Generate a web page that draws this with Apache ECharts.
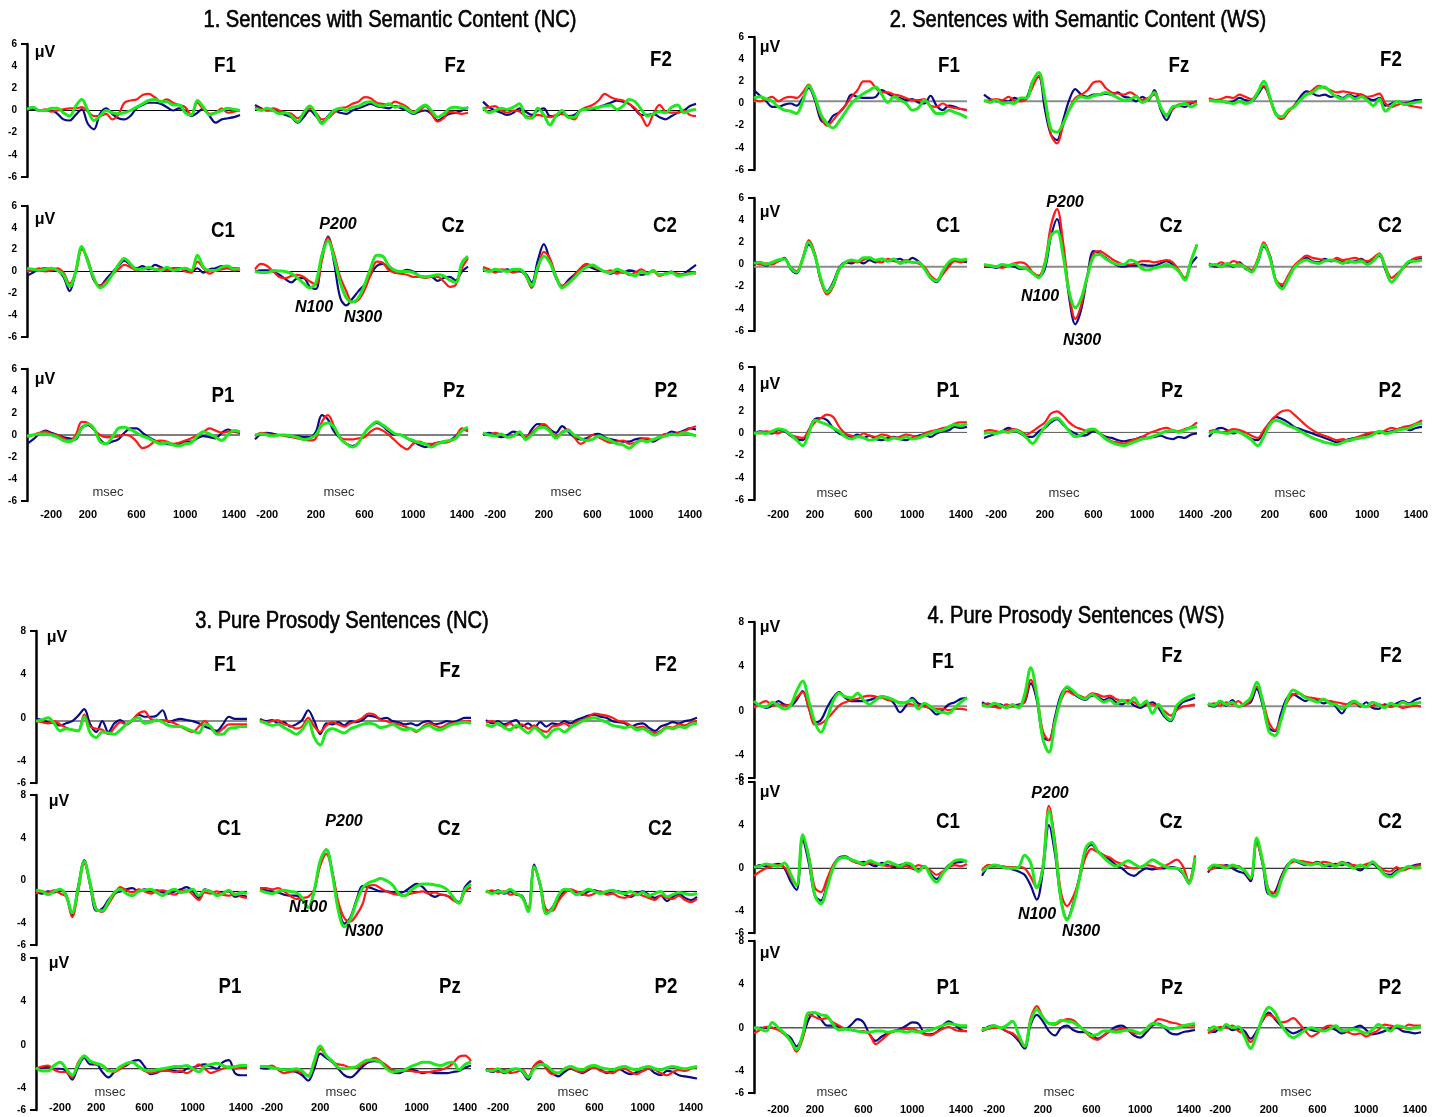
<!DOCTYPE html>
<html><head><meta charset="utf-8">
<script src="https://cdn.jsdelivr.net/npm/echarts@6/dist/echarts.min.js"></script>
<style>html,body{margin:0;padding:0;background:#fff}#c{width:1437px;height:1117px}</style>
</head><body><div id="c"></div>
<script>
// ---------- shared axes ----------
var TIME_MS = [-300,-250,-200,-150,-100,-50,0,50,100,150,200,250,300,350,400,450,500,550,600,650,700,750,800,850,900,950,1000,1050,1100,1150,1200,1250,1300,1350,1400,1450];
var X_TICKS = [-200,200,600,1000,1400];
var Y_TICKS_SEMANTIC = [6,4,2,0,-2,-4,-6];
var Y_TICKS_PROSODY = [8,4,0,-4,-6];
var ELECTRODES = [['F1','Fz','F2'],['C1','Cz','C2'],['P1','Pz','P2']];
var PANEL_TITLES = ['1. Sentences with Semantic Content (NC)','2. Sentences with Semantic Content (WS)','3. Pure Prosody Sentences (NC)','4. Pure Prosody Sentences (WS)'];
var PEAK_NAMES = ['P200','N100','N300'];
// baseline (reference line) level per row, in μV
var BASE_P1 = [0,0,0];
var BASE_P2 = [0.2,-0.2,0.1];
var BASE_P3 = [-0.3,-1.0,-2.2];
var BASE_P4 = [0.45,0,0];

// ---------- Panel 1 : Semantic NC ----------
var P1_F1_B = [0.3,0.1,0,0,0,-0.3,-0.8,-0.9,-0.4,0.1,-1.2,-1.7,-0.3,0.2,-0.3,-0.7,-0.8,-0.5,0.2,0.5,0.7,0.7,0.6,0.3,0,0.2,0,-0.5,-0.2,0.2,-0.5,-1.1,-0.8,-0.7,-0.6,-0.4];
var P1_F1_R = [0.1,0.3,0,0.1,-0.1,0,0.1,0.2,0.2,0.3,-0.1,-0.5,-0.5,-0.3,-0.8,-0.4,0.7,0.9,1.0,1.4,1.5,1.2,0.8,1.0,0.7,0.5,0.3,-0.4,0.7,0.1,-0.3,-0.2,0.2,-0.2,-0.1,0];
var P1_F1_G = [0.1,0.3,0,0,0.2,0.2,-0.2,-0.5,0.4,1.0,0,-0.9,-0.5,0,-0.2,-0.3,-0.2,0,0.3,0.6,0.9,1.0,0.8,0.8,0.5,0.5,-0.2,-0.4,0.9,0.3,-0.4,-0.2,0,0.2,0.1,0];
var P1_Fz_B = [0.5,0.2,0,0,-0.2,-0.4,-0.6,-1.1,-0.6,0,-0.5,-1.1,-0.5,0,-0.2,-0.3,0,0.2,0.4,0.6,0.4,0.3,0.2,0.4,0.2,0,-0.3,-0.1,0,-0.3,-0.9,-0.6,-0.3,-0.2,0,0.3];
var P1_Fz_R = [0.3,0.1,0,0.2,0,-0.2,-0.3,-0.7,-0.3,0.2,-0.2,-0.8,-0.7,-0.2,0.2,0.3,0.6,0.8,1.2,1.1,0.7,0.6,0.5,0.8,0.6,0.3,-0.1,0,0.4,-0.3,-1.0,-0.7,-0.1,-0.2,-0.3,-0.2];
var P1_Fz_G = [0.2,0,0.2,0,-0.3,-0.2,-0.5,-1.0,-0.2,0.4,-0.3,-1.2,-0.6,0,0.2,0,0.3,0.4,0.7,0.8,0.5,0.4,0.6,0.3,0.4,0.1,-0.2,0.2,0.5,0,-0.6,-0.3,0.2,0.3,0.2,0.2];
var P1_F2_B = [0.8,0.3,0,-0.2,-0.4,-0.2,0.2,-0.1,-0.4,0,0.2,-0.5,-0.5,-0.2,-0.5,-0.4,0,0.1,0.1,0.3,0.5,0.7,0.9,0.8,0.6,0.1,-0.4,-0.4,-0.3,-0.6,-0.8,-0.5,-0.2,0,0.4,0.6];
var P1_F2_R = [0.2,0.3,0.4,0,-0.2,0,-0.1,-0.5,-0.6,-0.4,-0.5,-0.6,-0.4,-0.3,-0.6,-0.8,0,0.3,0.5,0.9,1.5,1.2,1.0,0.9,0.6,0.2,-0.5,-1.4,-0.3,0.5,-0.1,-0.2,-0.2,0,-0.4,-0.5];
var P1_F2_G = [0.3,-0.2,0,0.2,0.1,0.3,0.6,-0.6,-0.7,0.2,-0.4,-1.3,-0.5,0,-0.6,-0.6,0,0.1,0.2,0.3,0.4,0.5,0.1,0.4,1.0,0.8,0.1,-0.5,-0.3,-0.1,-0.2,0.3,0.5,-0.2,0,0.1];
var P1_C1_B = [-0.4,-0.1,0.2,0.3,0.2,0.1,-0.5,-1.8,0,2.2,0.9,-0.8,-1.3,-0.7,-0.1,0.5,1.0,0.6,0.3,0.5,0.2,0.6,0.4,0.2,0.3,0.3,0.1,0,0.3,-0.1,0.2,0.3,0.5,0.3,0.3,0.3];
var P1_C1_R = [0,0.1,0.3,0,0.1,0.3,-0.1,-1.1,-0.1,2.0,1.1,-0.7,-1.3,-0.9,-0.3,0.2,0.6,0.4,0.1,0.3,0.3,0.2,0.3,0.1,0.2,0.3,0,-0.1,0.9,0.3,-0.2,0.1,0.2,0.3,0.1,0.2];
var P1_C1_G = [0.3,0.2,0.1,0.2,0.3,0.1,-0.3,-1.4,0,2.3,0.9,-0.6,-1.5,-1.1,-0.3,0.6,1.2,0.7,0.2,0.2,0.4,0.2,0.1,0.4,0.1,0.2,0.3,0.1,1.5,0.4,0.1,0.1,0.4,0.5,0.2,0.3];
var P1_Cz_B = [0,0.1,0.1,0,-0.3,-0.7,-1.0,-0.6,-0.6,-1.4,-1.6,1.5,3.2,0.8,-2.4,-3.1,-2.5,-1.8,-1.2,-0.3,0.5,0.7,0.3,-0.1,0,0.15,0,-0.4,-0.5,-0.5,-0.85,-0.6,-0.5,-0.8,0,0.45];
var P1_Cz_R = [0.2,0.7,0.5,0,-0.5,-0.6,-0.4,-0.3,-0.5,-0.9,-1.2,1.0,3.1,1.6,-0.5,-1.8,-2.8,-2.6,-1.7,-0.3,0.9,0.8,0.1,-0.1,-0.2,-0.3,-0.5,-0.5,-0.6,-0.5,-0.5,-0.9,-1.4,-1.2,0.3,1.2];
var P1_Cz_G = [0,-0.1,-0.1,0.1,0.05,0,-0.2,-0.6,-1.1,-1.5,-1.0,1.5,2.8,1.2,-1.0,-2.4,-2.8,-2.4,-1.2,0.3,1.5,1.4,0.5,0.1,0,0,-0.1,-0.4,-0.5,-0.4,-0.3,-0.4,-0.8,-1.0,0.8,1.4];
var P1_C2_B = [0.3,0.1,0,0,0.2,0,0,-0.2,-1.0,1.0,2.5,1.0,-0.6,-1.4,-0.8,-0.3,0.2,0.5,0.3,0.1,0,-0.2,0,-0.1,0.1,0,-0.3,-0.2,0.1,-0.3,-0.2,0,-0.3,-0.2,0.2,0.6];
var P1_C2_R = [0.4,0.2,-0.1,0.2,0.1,-0.1,0.1,-0.4,-1.5,0.2,1.8,1.2,-0.4,-1.3,-1.0,-0.4,0.3,0.7,0.5,0.2,0,0.1,-0.2,0,-0.3,-0.1,0.2,-0.1,0,-0.4,-0.2,-0.1,-0.2,-0.3,-0.1,-0.2];
var P1_C2_G = [0.2,0,0.2,0.1,0,0.2,0.2,-0.3,-1.3,0.4,1.4,0.8,-0.5,-1.5,-1.1,-0.6,0,0.4,0.6,0.3,0,-0.1,0.2,0,-0.2,-0.4,0,-0.2,0.1,-0.3,-0.2,-0.1,-0.4,-0.3,-0.2,-0.1];
var P1_P1_B = [-0.8,-0.4,0.1,0.4,0.2,0,-0.2,-0.3,-0.4,0.7,0.9,0.5,-0.4,-0.8,-0.6,-0.4,0.2,0.6,0.6,0.2,-0.2,-0.5,-0.7,-0.8,-0.9,-0.8,-0.6,-0.6,-0.3,-0.1,-0.2,-0.3,0.2,0.5,0.3,0.2];
var P1_P1_R = [-0.2,0,0.2,0.3,0.1,0,-0.3,-0.5,0,1.2,1.1,0.5,0,-0.2,-0.2,-0.1,0,-0.1,-0.6,-1.2,-1.0,-0.6,-0.5,-0.6,-0.8,-0.7,-0.5,-0.3,0,0.3,0.6,0.4,0.2,0.3,0.3,0.3];
var P1_P1_G = [-0.1,0,0.1,0.1,0,-0.2,-0.5,-0.6,-0.3,0.6,1.0,0.6,-0.6,-0.8,-0.2,0.6,0.7,0.5,0.2,-0.1,-0.3,-0.6,-0.8,-0.7,-0.9,-1.0,-0.8,-0.7,-0.1,0.3,0.1,-0.2,-0.5,0,0.4,0.3];
var P1_Pz_B = [-0.4,0.1,0.2,0.1,0,0,-0.1,-0.1,-0.2,-0.2,0.3,1.8,1.4,0.3,-0.3,-0.8,-1.0,-0.7,0.2,0.8,1.1,0.8,0.3,0,0,-0.3,-0.6,-0.9,-1.1,-0.9,-0.7,-0.6,-0.5,-0.1,0.5,0.4];
var P1_Pz_R = [-0.1,0.2,0.1,0,0,-0.1,-0.2,-0.3,-0.4,-0.5,-0.3,1.2,1.8,0.8,-0.2,-0.4,-0.4,-0.3,-0.2,0.3,0.6,0.4,0,-0.5,-1.0,-1.3,-0.8,-0.6,-0.8,-0.8,-0.7,-0.7,-0.6,-0.2,0.6,0.3];
var P1_Pz_G = [0,0.1,0,-0.1,0,0,-0.1,-0.2,-0.4,-0.3,0,0.9,1.1,0.7,-0.3,-0.8,-1.1,-0.7,0.2,0.8,1.2,0.9,0.5,0.1,0,-0.3,-0.5,-0.7,-0.8,-1.1,-0.8,-0.6,-0.5,-0.3,0.4,0.7];
var P1_P2_B = [0,0.2,0,-0.2,0,0.3,0.1,-0.3,0.5,1.0,0.9,0.5,0.2,0.8,0.3,-0.2,-0.4,-0.3,0,0.1,-0.2,-0.4,-0.5,-0.6,-0.6,-0.4,-0.3,-0.4,-0.6,-0.3,0,0.3,0.2,0.4,0.6,0.5];
var P1_P2_R = [0.1,0,0.2,0,-0.2,0,0.2,-0.2,0.2,0.7,1.0,0.5,-0.2,0.3,0.5,-0.2,-0.8,-0.5,0,-0.2,-0.5,-0.7,-0.6,-0.5,-0.8,-0.7,-0.4,-0.3,-0.5,-0.2,0.1,0,0.2,0.3,0.6,0.8];
var P1_P2_G = [0.2,0,-0.1,0.1,-0.2,-0.1,0.3,-0.4,0,0.6,0.7,0.3,-0.3,0.2,0.4,0,-0.3,-0.5,-0.4,-0.1,-0.3,-0.5,-0.8,-0.9,-1.2,-0.8,-0.5,-0.6,-0.4,-0.2,-0.1,0.1,0,0.2,0.1,-0.1];

// ---------- Panel 2 : Semantic WS ----------
var P2_F1_B = [1.2,0.7,0.2,-0.3,-0.3,-0.1,0,-0.2,0.5,1.4,0.3,-1.5,-1.8,-1.1,-0.8,-0.2,0.8,0.6,0.5,0.5,0.6,1.2,0.9,0.6,0.5,0.3,0.4,0.1,0,0.7,-0.2,-0.6,-0.2,-0.3,-0.5,-0.6];
var P2_F1_R = [0.3,0.2,0.4,0.6,0.2,0.5,0.6,0.5,1.0,1.7,0.5,-1.2,-2.0,-1.5,-0.8,-0.2,0.6,1.2,2.0,2.0,1.4,1.0,1.0,0.8,0.7,0.5,0.3,0.3,0.4,-0.2,-0.3,0,-0.3,-0.4,-0.5,-0.6];
var P2_F1_G = [0.5,0.6,0.4,0.2,-0.3,-0.6,-0.7,-0.9,0.2,1.6,0.6,-1.0,-1.8,-2.2,-1.6,-0.8,0,0.5,0.9,1.2,1.5,0.8,0.1,0.6,0.3,0,-0.6,-0.4,0.3,-0.3,-0.9,-0.9,-0.6,-0.8,-1.0,-1.3];
var P2_Fz_B = [0.8,0.4,0.2,0.3,0.2,0.5,0.3,0.5,2.0,2.4,-0.5,-2.8,-3.3,-1.5,0.3,1.3,0.8,0.6,0.8,0.8,0.9,0.8,1.0,0.6,0.5,0.2,0.6,0.3,1.2,-0.5,-1.5,-0.5,-0.2,-0.3,0,0.2];
var P2_Fz_R = [0.2,0.3,0.4,0.3,0.6,0.3,0.2,0.4,1.5,2.5,0.3,-2.8,-3.6,-2.0,-0.5,0.5,0.8,1.2,1.9,2.0,1.4,1.0,0.9,0.8,1.0,0.7,0.3,0.5,0.8,-0.3,-1.0,-0.5,-0.1,0,0.1,0.1];
var P2_Fz_G = [0.3,0.1,0.3,0,0.1,0,0.5,0.5,2.0,2.8,0.5,-2.3,-2.6,-1.8,-0.6,0.3,0.6,0.5,0.7,0.8,1.0,0.8,0.5,0.3,0.4,0.6,0.1,0.4,1.0,-0.3,-1.1,-0.3,-0.2,0,-0.3,0];
var P2_F2_B = [0.4,0.3,0.2,0.1,0.2,0.5,0.3,0.2,0.8,1.5,0.5,-0.9,-1.2,-0.7,-0.2,0.6,1.1,0.9,0.7,0.8,0.6,0.7,0.5,0.8,0.6,0.8,0.5,0.3,0.5,-0.2,0,0.2,0,0.1,0.3,0.3];
var P2_F2_R = [0.5,0.3,0.4,0.6,0.5,0.8,0.6,0.4,1.0,1.6,0.4,-1.0,-1.4,-0.8,-0.2,0.3,0.8,1.2,1.6,1.4,1.2,1.0,1.1,1.0,0.9,0.8,0.6,0.7,0.9,0,-0.3,-0.1,0,-0.2,-0.3,-0.4];
var P2_F2_G = [0.3,0.2,0.2,0.1,0,0.2,0,0.2,1.0,2.0,0.6,-1.0,-1.2,-0.6,-0.3,0.3,0.8,1.0,1.4,1.5,1.0,0.6,0.4,0.7,0.4,0.6,0.3,-0.2,0.4,-0.7,-0.2,0.2,-0.1,0,0.1,0.2];
var P2_C1_B = [0.3,0.1,-0.1,0.2,0.3,0.6,-0.4,-0.8,0.5,1.8,0.8,-1.5,-2.4,-1.6,-0.3,0.2,0.1,0.3,0.1,0.4,0.2,0.5,0.3,0.4,0.5,0.2,0.6,0.3,-0.3,-1.2,-1.6,-0.8,0,0.4,0.3,0.2];
var P2_C1_R = [0.2,0,0.1,0,0.3,0.5,-0.2,-0.6,0.6,2.2,1.0,-1.5,-2.7,-2.0,-0.5,0.2,0.3,0.2,0.4,0.6,0.3,0.2,0.5,0.3,0.2,0.4,0.2,0.1,-0.2,-1.0,-1.4,-0.9,-0.2,0.3,0.2,0.4];
var P2_C1_G = [0.1,0.2,0,0.2,0.4,0.5,-0.3,-0.7,0.5,2.0,0.8,-1.3,-2.5,-1.8,-0.4,0.2,0.4,0.3,0.6,0.6,0.4,0.5,0.3,0.5,0.1,0.3,0.2,0.2,-0.4,-1.2,-1.5,-0.6,0.2,0.5,0.4,0.5];
var P2_Cz_B = [-0.2,-0.2,-0.3,-0.1,-0.1,-0.2,-0.4,-0.4,-0.8,-1.1,-0.4,2.5,4.1,1.5,-3.0,-5.4,-4.0,-1.0,1.2,1.0,0.6,0.2,-0.1,-0.2,-0.1,-0.1,0,-0.1,-0.1,0.1,0.3,0,-0.6,-1.3,0,0.7];
var P2_Cz_R = [-0.1,-0.1,-0.2,-0.3,-0.1,0.1,0.2,0,-0.7,-1.0,0.2,3.5,5.0,2.0,-2.5,-4.9,-3.6,-1.0,1.0,1.2,0.9,0.5,0.2,0,0,0.1,0.3,0.3,0.2,0.3,0.4,0.2,-0.5,-1.2,0.3,1.8];
var P2_Cz_G = [0,-0.1,-0.2,0,-0.1,0,-0.3,-0.4,-0.8,-1.2,0,2.6,3.0,0.8,-2.5,-3.9,-3.0,-1.0,0.7,0.9,0.5,0.2,0,0,0.4,0.2,-0.4,-0.5,-0.3,-0.2,0,-0.2,-0.6,-1.4,0.3,1.8];
var P2_C2_B = [0,-0.2,-0.1,0,-0.2,0.2,-0.4,-0.6,0.2,1.6,0.8,-1.5,-2.0,-1.2,-0.2,0.3,0.6,0.3,0.2,0.5,0.3,0.4,0.2,0.2,0.3,0.5,0.2,0.4,0.8,-0.5,-1.6,-1.0,-0.2,0.2,0.4,0.5];
var P2_C2_R = [0.1,-0.1,0.2,0,0.3,0.1,-0.2,-0.5,0.5,2.0,0.8,-1.4,-1.8,-1.0,-0.1,0.4,0.8,0.6,0.5,0.4,0.3,0.6,0.4,0.5,0.6,0.4,0.3,0.6,1.0,-0.2,-1.2,-0.8,-0.3,0.3,0.6,0.7];
var P2_C2_G = [-0.1,0,-0.2,0.1,-0.1,0,-0.3,-0.7,0.3,1.8,0.6,-1.5,-2.2,-1.3,-0.3,0.2,0.4,0.2,0.1,0.3,0.4,0.3,0.1,0.3,0.2,0.3,0,0.3,0.9,-0.3,-1.6,-1.0,-0.2,0.3,0.3,0.4];
var P2_P1_B = [0,0.2,0.1,0,0.3,0.2,-0.2,-0.5,-0.6,0.3,1.3,1.4,1.2,0.5,0,-0.2,-0.3,-0.1,-0.4,-0.2,-0.5,-0.6,-0.4,-0.3,-0.5,-0.6,-0.4,-0.2,-0.1,-0.3,0,0.2,0.3,0.6,0.5,0.6];
var P2_P1_R = [0.1,0,0.2,0.1,0,0.3,-0.1,-0.3,-0.4,0.3,1.0,1.4,1.7,1.5,0.6,0,-0.2,-0.3,0,-0.2,-0.3,-0.1,-0.2,-0.4,-0.3,-0.1,-0.2,-0.3,0,0.2,0.3,0.5,0.6,0.9,1.0,1.0];
var P2_P1_G = [0,0.1,0,0.2,0.4,0.3,-0.1,-0.6,-1.1,0,1.2,1.0,0.8,0.5,0.2,-0.3,-0.5,-0.3,-0.4,-0.6,-0.5,-0.3,-0.6,-0.4,-0.5,-0.3,-0.5,-0.4,-0.2,0,0.2,0.3,0.6,0.8,0.7,0.9];
var P2_Pz_B = [-0.4,-0.2,0,0.2,0.5,0.3,0,-0.3,-0.3,0.2,0.5,1.0,1.3,0.8,0.3,0,-0.2,-0.1,0.2,0,-0.3,-0.4,-0.6,-0.7,-0.6,-0.5,-0.3,-0.4,-0.3,-0.2,-0.4,-0.5,-0.3,-0.4,-0.1,0];
var P2_Pz_R = [0.2,0.3,0.2,0.1,0.3,0.4,0.2,-0.1,0.2,0.6,1.0,1.8,2.0,1.6,1.0,0.6,0.4,0.2,0.3,0,-0.4,-0.7,-0.8,-0.9,-0.7,-0.5,-0.3,0,0.2,0.4,0.5,0.3,0.2,0.4,0.6,1.0];
var P2_Pz_G = [0,0.1,0,0.2,0.1,0.3,0.1,-0.4,-0.9,-0.2,0.6,1.2,1.4,0.9,0.2,-0.3,-0.1,0.3,0.4,0,-0.5,-0.8,-1.0,-1.1,-0.9,-0.7,-0.5,-0.4,-0.2,0,0.2,0.3,0.1,0.3,0.5,0.6];
var P2_P2_B = [-0.3,0.3,0.5,0.3,0,0.2,-0.2,-0.5,-0.6,0.2,1.0,1.5,1.3,1.0,0.6,0.4,0.2,0,-0.2,-0.4,-0.6,-0.8,-0.7,-0.5,-0.4,-0.3,-0.1,0,0.2,0.1,0.2,0.4,0.5,0.3,0.5,0.6];
var P2_P2_R = [0.2,0.3,0.1,0.2,0.4,0.3,0.1,-0.2,-0.4,0.3,1.0,1.6,2.0,2.1,1.7,1.2,0.7,0.3,0,-0.2,-0.4,-0.6,-0.5,-0.7,-0.4,-0.2,0,0.1,0,0.3,0.5,0.4,0.6,0.7,0.9,1.2];
var P2_P2_G = [0,0.2,0.1,0,0.2,0.1,-0.2,-0.6,-1.1,-0.3,0.8,1.2,1.0,0.7,0.5,0.2,-0.1,-0.4,-0.6,-0.8,-0.9,-1.0,-0.8,-0.6,-0.5,-0.4,-0.3,-0.1,0.2,0,0.1,0.3,0.4,0.5,0.8,0.9];

// ---------- Panel 3 : Prosody NC ----------
var P3_F1_B = [-0.1,-0.2,-0.4,-0.5,-0.7,-0.5,-0.3,0.2,0.8,-0.6,-1.3,-0.3,-1.3,-0.5,-0.2,-0.6,-0.2,0.3,0.1,0.1,0.2,0.7,-0.4,-0.2,-0.1,-0.2,-0.3,-0.5,-0.8,-1.0,-1.2,-0.6,0.1,-0.1,-0.1,-0.1];
var P3_F1_R = [-0.3,-0.4,-0.5,-0.3,-0.6,-0.9,-1.1,-1.2,0.3,-0.8,-1.0,-1.1,-1.5,-0.9,-0.4,-0.6,-0.2,0.4,0.6,-0.1,-0.2,-0.2,-0.3,-0.5,-0.8,-1.1,-1.3,-0.8,-0.3,-0.9,-1.4,-1.0,-0.6,-0.6,-0.6,-0.6];
var P3_F1_G = [-0.3,-0.2,0,-0.5,-1.2,-1.0,-1.1,-1.2,0.1,-1.4,-1.8,-1.3,-1.4,-1.5,-1.1,-0.6,-0.2,0,-0.5,-0.4,-0.2,-0.4,-0.7,-0.8,-0.8,-1.0,-1.2,-1.4,-0.6,-0.8,-1.5,-1.5,-1.0,-0.9,-0.8,-0.8];
var P3_Fz_B = [-0.1,-0.3,-0.2,-0.5,-0.4,-0.8,-0.6,-0.2,0.7,-0.3,-1.5,-0.5,-0.6,-0.4,-0.7,-0.3,-0.4,-0.2,0.2,0.1,-0.1,0,-0.3,-0.4,-0.6,-0.5,-0.7,-0.4,-0.3,-0.6,-0.5,-0.3,-0.4,-0.2,0,0];
var P3_Fz_R = [-0.2,-0.4,-0.3,-0.2,-0.6,-0.7,-1.0,-0.8,0,-0.8,-1.3,-0.7,-0.4,-0.6,-0.8,-0.5,-0.3,0,0.4,0.3,-0.2,-0.3,-0.5,-0.6,-0.8,-1.0,-1.3,-0.8,-0.5,-0.7,-0.9,-0.6,-0.5,-0.4,-0.3,-0.3];
var P3_Fz_G = [-0.3,-0.5,-0.7,-0.6,-0.9,-1.2,-1.5,-1.1,-0.3,-1.8,-2.5,-1.3,-1.0,-1.2,-1.4,-1.0,-0.8,-0.6,-0.5,-0.6,-0.9,-0.8,-0.6,-0.9,-1.1,-1.0,-1.2,-0.9,-0.7,-1.0,-1.1,-0.8,-0.6,-0.5,-0.4,-0.5];
var P3_F2_B = [-0.2,-0.5,-0.3,-0.6,-0.4,-0.2,-0.8,-0.5,-0.9,-0.4,-0.8,-0.5,-0.6,-0.3,-0.5,-0.2,0,0.2,0.3,0.1,0,-0.3,-0.4,-0.5,-0.8,-0.6,-0.5,-0.9,-1.2,-0.8,-0.6,-0.4,-0.5,-0.3,-0.2,0];
var P3_F2_R = [-0.4,-0.3,-0.6,-0.8,-0.5,-0.9,-0.6,-1.0,-0.7,-1.1,-1.3,-0.8,-0.7,-0.5,-0.8,-0.4,-0.2,0.1,0.4,0.3,0.2,0,-0.3,-0.4,-0.7,-0.9,-0.8,-1.2,-1.4,-1.2,-0.8,-0.9,-0.6,-0.7,-0.4,-0.3];
var P3_F2_G = [-0.6,-0.8,-0.5,-0.9,-1.1,-0.7,-1.0,-1.4,-0.9,-1.3,-1.8,-1.2,-1.0,-1.3,-0.9,-0.6,-0.3,-0.1,0,-0.2,-0.4,-0.7,-0.8,-0.9,-0.8,-1.1,-1.0,-1.3,-1.6,-1.3,-0.9,-1.0,-0.8,-0.9,-0.6,-0.5];
var P3_C1_B = [-1.0,-1.2,-1.0,-1.1,-0.9,-1.3,-3.2,-0.5,1.9,-0.5,-2.8,-2.6,-1.8,-1.2,-1.0,-0.8,-0.7,-1.0,-0.8,-1.0,-0.9,-1.1,-1.2,-1.0,-0.8,-0.6,-1.0,-1.6,-0.8,-1.0,-1.3,-1.1,-1.0,-1.5,-1.4,-1.5];
var P3_C1_R = [-1.2,-1.0,-1.1,-0.9,-1.2,-1.5,-3.4,-1.0,1.6,-0.2,-2.6,-2.9,-2.2,-1.3,-0.6,-0.9,-1.1,-0.8,-1.0,-1.2,-1.0,-0.9,-1.1,-1.3,-1.0,-0.9,-1.3,-1.8,-1.1,-1.2,-1.0,-1.3,-1.4,-1.2,-1.5,-1.6];
var P3_C1_G = [-0.9,-1.0,-1.3,-1.0,-0.8,-1.4,-3.0,-0.7,1.8,-0.3,-2.7,-2.8,-2.0,-1.1,-0.8,-1.2,-1.4,-1.0,-0.9,-0.8,-1.1,-1.4,-1.0,-0.8,-1.1,-1.0,-0.8,-1.4,-0.9,-1.0,-1.4,-1.2,-0.9,-1.3,-1.1,-1.2];
var P3_Cz_B = [-0.8,-0.9,-1.0,-1.1,-1.3,-1.4,-1.4,-1.8,-2.5,-1.0,1.8,2.9,0.8,-2.4,-4.0,-3.4,-1.8,-0.5,-0.6,-0.8,-1.0,-1.0,-1.1,-1.2,-1.0,-0.6,-0.3,-0.6,-1.2,-1.5,-1.3,-1.4,-1.7,-2.0,-0.6,0];
var P3_Cz_R = [-0.7,-0.7,-0.8,-0.7,-1.0,-1.4,-1.7,-1.6,-1.5,-0.8,1.4,2.5,0.8,-2.0,-3.5,-3.8,-3.2,-2.2,-0.5,-0.4,-0.7,-1.0,-1.2,-1.3,-1.4,-1.2,-1.1,-1.0,-1.2,-1.1,-1.3,-1.4,-1.8,-2.1,-1.0,-0.6];
var P3_Cz_G = [-0.9,-1.1,-1.2,-1.0,-0.9,-1.0,-1.1,-1.6,-2.5,-0.9,1.9,2.9,0.6,-2.8,-4.3,-3.6,-2.0,-0.7,-0.2,0,0.2,0,-0.4,-1.2,-1.4,-0.9,-0.5,-0.3,-0.3,-0.4,-0.5,-0.8,-1.5,-2.1,-0.8,-0.3];
var P3_C2_B = [-1.0,-1.1,-0.9,-1.2,-1.0,-1.3,-1.4,-2.8,1.5,-0.5,-3.0,-2.5,-1.6,-1.0,-0.9,-1.1,-1.3,-1.0,-0.9,-1.1,-1.2,-1.0,-1.0,-1.3,-1.5,-1.2,-1.0,-1.3,-1.6,-1.4,-1.9,-1.5,-1.2,-1.6,-1.8,-1.5];
var P3_C2_R = [-1.1,-0.9,-1.2,-1.0,-1.3,-1.2,-1.6,-2.6,1.1,-0.3,-2.7,-2.8,-1.9,-1.2,-0.8,-1.0,-1.2,-1.4,-1.2,-1.0,-1.3,-1.2,-1.5,-1.6,-1.4,-1.2,-1.4,-1.6,-1.8,-1.4,-1.6,-1.7,-1.4,-1.8,-2.0,-1.7];
var P3_C2_G = [-0.9,-1.2,-1.0,-1.1,-0.8,-1.2,-1.5,-2.9,1.3,-0.4,-3.1,-2.6,-1.4,-0.8,-0.9,-1.3,-1.1,-0.8,-1.0,-1.2,-1.0,-0.9,-1.1,-1.2,-1.0,-1.3,-1.1,-1.4,-1.2,-1.0,-1.5,-1.3,-1.1,-1.2,-1.3,-1.2];
var P3_P1_B = [-2.2,-2.1,-2.0,-2.2,-2.2,-2.4,-3.2,-2.0,-1.2,-1.8,-1.8,-2.5,-3.0,-2.5,-2.1,-1.9,-1.5,-1.4,-2.0,-2.7,-2.6,-2.3,-2.3,-2.4,-2.5,-2.2,-2.1,-1.9,-1.8,-2.0,-2.2,-1.6,-1.4,-2.6,-2.8,-2.8];
var P3_P1_R = [-2.2,-2.0,-1.9,-2.3,-2.5,-2.5,-3.0,-1.6,-1.1,-1.5,-1.8,-1.9,-2.3,-2.5,-2.2,-1.8,-1.6,-2.0,-2.4,-2.6,-2.5,-2.4,-2.4,-2.5,-2.4,-2.6,-2.3,-1.8,-2.2,-2.6,-2.4,-2.2,-2.0,-2.2,-2.1,-2.1];
var P3_P1_G = [-2.1,-2.4,-2.4,-1.9,-1.6,-2.2,-2.8,-1.8,-1.0,-1.5,-1.7,-1.9,-2.4,-2.4,-2.0,-1.7,-1.6,-2.0,-2.3,-2.4,-2.3,-2.2,-2.1,-2.0,-2.0,-1.9,-2.2,-2.5,-2.0,-1.8,-1.7,-1.9,-2.1,-2.0,-1.9,-1.9];
var P3_Pz_B = [-2.1,-2.2,-2.1,-2.2,-2.3,-2.4,-2.5,-2.8,-3.3,-2.2,-0.8,-1.2,-1.6,-2.2,-2.8,-3.0,-2.6,-2.0,-1.6,-1.5,-1.6,-2.0,-2.5,-2.6,-2.4,-2.3,-2.4,-2.6,-2.5,-2.6,-2.6,-2.6,-2.5,-2.4,-2.1,-1.9];
var P3_Pz_R = [-2.0,-2.0,-1.9,-2.3,-2.6,-2.5,-2.4,-2.6,-2.8,-1.8,-0.4,-1.0,-1.6,-1.8,-1.9,-2.1,-2.1,-1.8,-1.5,-1.2,-1.5,-1.9,-2.3,-2.4,-2.4,-2.4,-2.5,-2.5,-2.5,-2.4,-2.3,-2.1,-1.7,-1.1,-1.0,-1.5];
var P3_Pz_G = [-2.0,-2.0,-2.1,-2.2,-2.3,-2.3,-2.2,-2.4,-2.9,-1.5,-0.1,-1.0,-1.5,-2.1,-2.2,-2.1,-2.0,-1.6,-1.4,-1.4,-1.6,-2.2,-2.5,-2.4,-2.3,-2.0,-1.8,-1.6,-1.6,-1.8,-1.9,-1.7,-1.6,-2.3,-1.8,-1.6];
var P3_P2_B = [-2.2,-2.5,-2.3,-2.6,-2.4,-2.2,-2.5,-3.2,-2.0,-1.6,-2.0,-2.6,-2.9,-2.5,-2.2,-2.4,-2.6,-2.3,-2.0,-2.3,-2.6,-2.4,-2.2,-2.5,-2.7,-2.5,-2.4,-2.2,-2.6,-2.8,-2.4,-2.5,-2.8,-2.9,-3.0,-3.1];
var P3_P2_R = [-2.4,-2.2,-2.5,-2.3,-2.6,-2.5,-2.3,-2.9,-1.9,-1.5,-2.2,-2.7,-2.6,-2.3,-2.1,-2.4,-2.5,-2.2,-2.1,-2.4,-2.5,-2.6,-2.3,-2.2,-2.5,-2.7,-2.4,-2.2,-2.3,-2.6,-2.8,-2.5,-2.3,-2.4,-2.2,-2.0];
var P3_P2_G = [-2.3,-2.4,-2.2,-2.5,-2.3,-2.2,-2.4,-3.0,-2.2,-1.8,-1.9,-2.4,-2.6,-2.2,-2.0,-2.2,-2.3,-2.0,-1.9,-2.1,-2.2,-2.3,-2.1,-2.0,-2.2,-2.3,-2.1,-2.0,-2.2,-2.3,-2.1,-2.0,-2.1,-2.2,-2.1,-2.0];

// ---------- Panel 4 : Prosody WS ----------
var P4_F1_B = [0.7,0.5,0.3,0.5,0.9,0.6,0.5,1.0,1.8,0.3,-1.0,-0.8,0.3,1.2,1.7,1.2,0.9,0.9,0.9,1.0,1.2,1.3,1.2,0.7,-0.1,0.5,1.2,0.7,0.5,0.2,-0.3,0.1,0.6,0.8,1.1,1.2];
var P4_F1_R = [0.3,0.7,0.9,0.5,0.6,0.5,0.6,1.2,1.7,0.3,-1.2,-1.1,-0.7,-0.1,0.5,0.8,1.0,1.1,1.3,1.4,1.3,1.2,1.0,0.9,0.8,0.7,0.6,0.5,0.4,0.3,0.2,0.2,0.1,0.2,0.2,0.1];
var P4_F1_G = [0.9,0.5,0.4,0.8,0.5,0.2,0.5,1.8,2.7,0.9,-1.0,-1.9,-0.7,0.9,1.6,1.3,1.2,1.6,1.0,0.6,1.0,1.3,1.2,1.0,0.7,0.8,1.0,0.2,0.7,0.4,0,-0.1,-0.2,0.3,0.8,1.2];
var P4_Fz_B = [0.8,0.5,0.4,0.6,0.3,0.5,0.6,0.8,2.5,1.0,-2.3,-2.6,-0.5,1.5,2.1,1.6,1.2,1.0,1.4,1.3,1.0,1.2,0.8,0.6,0.9,0.5,0.3,0.6,0.8,0.3,-0.5,-0.9,0.2,0.8,1.0,1.2];
var P4_Fz_R = [0.5,0.7,0.4,0.3,0.6,0.4,0.5,0.9,2.8,1.4,-1.8,-2.6,-0.8,1.0,1.8,1.5,1.4,1.2,1.6,1.5,1.3,1.4,1.1,0.9,1.0,0.8,0.5,0.7,0.6,0.4,0,-0.4,0.1,0.4,0.5,0.6];
var P4_Fz_G = [0.6,0.4,0.7,0.5,0.3,0.6,0.3,1.5,3.9,1.5,-2.5,-3.7,-1.0,1.2,2.2,1.8,1.3,1.1,1.5,1.2,0.8,1.0,0.6,1.0,0.7,1.2,0.5,0.9,-0.2,0.6,-0.3,-0.8,0.5,1.0,1.3,1.5];
var P4_F2_B = [0.6,0.4,0.8,0.5,1.0,0.4,0.6,0.8,2.0,0.5,-1.5,-1.8,-0.2,1.2,1.5,1.2,0.9,1.2,1.0,0.7,0.9,0.4,-0.2,0.6,0.9,0.4,0.8,0.3,0.2,0.6,0.4,0.7,0.9,0.7,1.0,1.2];
var P4_F2_R = [0.5,0.7,0.5,0.8,0.6,0.9,0.5,1.0,2.2,1.0,-1.0,-1.7,-0.6,0.8,1.5,1.6,1.3,1.2,1.1,1.0,0.9,0.8,0.7,0.6,0.7,0.5,0.4,0.5,0.6,0.5,0.4,0.5,0.3,0.4,0.5,0.4];
var P4_F2_G = [0.7,0.5,0.9,0.6,0.8,0.4,0.7,1.2,2.6,0.8,-1.8,-2.2,-0.8,1.0,1.9,1.6,1.2,1.0,0.8,1.1,0.7,0.6,0.2,0.5,0.9,0.6,0.4,0.8,0.6,0.3,0.7,0.5,0.8,0.6,0.7,0.8];
var P4_C1_B = [0,0.3,0.2,0.3,0.4,0,-1.2,-2.0,2.6,0.5,-2.5,-3.0,-1.5,0.2,1.0,1.1,0.8,0.5,0.6,0.4,0.2,0.5,0.3,0.1,0.3,0.4,0,-0.2,0.2,-0.5,-1.0,-0.4,0.3,0.5,0.6,0.7];
var P4_C1_R = [-0.7,-0.3,0,0.2,0.3,0.1,-0.8,-1.6,2.9,1.2,-1.8,-2.2,-1.0,0.3,0.9,1.0,0.7,0.5,0.3,0.5,0.4,0.3,0.2,0.3,0.1,0.2,0,0.3,0.1,-0.2,-0.6,-0.3,0.1,0.3,0.2,0.4];
var P4_C1_G = [0.1,0.2,0.4,0.3,0.2,0.5,-0.5,-1.6,3.1,1.0,-2.5,-3.3,-1.8,0,0.9,1.0,0.8,0.6,0.4,0.7,0.5,0.3,0.6,0.4,0.2,0.5,0.3,-0.3,0.2,-0.7,-1.3,-0.5,0.2,0.7,0.8,0.6];
var P4_Cz_B = [-0.7,0.1,0.2,0.2,0.1,-0.1,-0.3,-0.6,-1.6,-2.9,-0.3,4.0,1.3,-3.0,-4.7,-3.2,-0.8,1.6,2.2,1.6,1.2,0.8,0.3,0,-0.5,-0.7,-0.3,0,-0.1,0,0,0.1,0,-0.5,-1.4,0.8];
var P4_Cz_R = [-0.2,0.3,0.3,0.2,0.1,0.1,0.1,0,-0.8,-1.8,0.3,5.8,2.5,-2.3,-3.5,-2.6,-1.0,1.0,1.8,1.5,1.2,1.0,0.6,0.4,0.1,0,0.1,0.3,0.2,0,0.2,0.5,0.8,0.2,-1.2,1.2];
var P4_Cz_G = [-0.3,0.1,0.3,0.2,0,0,0.1,1.2,0.5,-1.8,0,5.3,2.0,-3.0,-4.8,-3.4,-1.0,1.8,2.4,1.6,1.0,0.5,0.2,0.4,0.7,0.4,0.1,0.4,0.8,0.5,0.2,0,0,-0.4,-1.4,1.0];
var P4_C2_B = [-0.4,0.2,0.1,0.3,0,-0.3,-0.5,-1.2,2.5,0.3,-2.4,-2.2,-0.8,0.3,0.7,0.5,0.3,0.4,0.6,0.3,0.2,0.4,0.3,0.5,0.1,-0.2,0.2,0.4,0,-0.5,-0.6,-0.2,0,0.1,0.3,0.4];
var P4_C2_R = [-0.2,0,0.3,0.2,0.1,0.2,-0.3,-1.0,2.3,0.5,-2.0,-2.3,-1.0,0.2,0.6,0.7,0.6,0.5,0.4,0.6,0.5,0.3,0.6,0.4,0.3,0.2,0.4,0.5,0.2,-0.2,-0.3,0.1,-0.2,0,0.2,0.3];
var P4_C2_G = [-0.1,0.3,0.2,0,0.3,0.1,-0.2,-0.9,2.8,0.6,-2.3,-2.6,-1.2,0.1,0.8,0.6,0.4,0.3,0.5,0.2,0.4,0.2,0.5,0.3,0,0.3,0.1,0.6,0.1,-0.6,-0.8,-0.4,-0.1,0.2,0,0.1];
var P4_P1_B = [0,0,0,0,-0.1,-0.5,-0.9,-1.7,-0.8,0.8,1.4,0.8,0.2,0.2,0.1,-0.1,0.3,0.8,0.5,-0.6,-1.2,-0.8,-0.5,-0.3,-0.1,0.2,0.5,0.4,-0.5,-0.6,-0.4,0.2,0.6,0.3,-0.2,-0.3];
var P4_P1_R = [-0.5,-0.2,0.1,0,-0.2,-0.6,-1.2,-2.2,-1.0,1.2,1.0,0.8,0.9,0.5,0.2,-0.1,-0.2,-0.3,-0.3,-0.6,-1.5,-1.1,-0.6,-0.3,-0.2,-0.1,-0.1,-0.3,-0.6,-0.7,-0.4,-0.1,0.1,-0.2,-0.3,-0.3];
var P4_P1_G = [0,-0.1,-0.3,0.5,0,-0.5,-1.2,-2.0,-0.6,1.4,1.4,1.2,1.1,0.3,-0.2,-0.1,-0.2,-0.3,-0.4,-0.4,-0.3,-0.3,-0.4,-0.3,-0.3,-0.4,-0.3,-0.4,-0.3,-0.2,0,0.2,0.4,0.3,0.2,0.2];
var P4_Pz_B = [-0.3,0.1,0.2,0,-0.3,-0.6,-1.2,-1.9,0.3,1.2,0.6,-0.3,-0.7,0,0.2,-0.2,-0.4,-0.4,-0.6,-1.0,-0.7,-0.3,0.1,0.2,-0.2,-0.7,-0.9,-0.4,0.2,0.4,0,-0.5,-0.6,-0.4,-0.3,-0.2];
var P4_Pz_R = [-0.3,-0.1,0,0,-0.3,-0.5,-1.0,-1.6,0.9,2.0,1.0,0.4,0.3,0.6,0.8,0.7,0.2,-0.4,-0.9,-1.1,-0.7,-0.3,-0.2,-0.1,-0.2,-0.5,-0.5,-0.2,0.3,0.8,0.7,0.5,0.4,0.2,0.2,0.2];
var P4_Pz_G = [-0.2,0,0.2,0,0.2,0.6,-0.6,-1.7,0.6,1.7,1.0,0.4,0.4,0.7,0.6,0.5,0.1,-0.3,-0.7,-0.6,-0.3,-0.3,-0.4,-0.3,-0.2,-0.3,-0.5,-0.1,0.4,0.3,0.1,-0.1,0,0.2,0.3,0.4];
var P4_P2_B = [-0.2,-0.4,0,0.1,-0.2,-0.1,-0.3,-1.0,-0.3,0.7,1.4,0.8,0.2,-0.2,-0.5,-0.3,0,-0.2,-0.3,-0.2,0,-0.2,-0.5,-0.3,0,0.2,-0.2,-0.6,-0.5,-0.3,-0.1,0,-0.3,-0.4,-0.5,-0.4];
var P4_P2_R = [-0.5,-0.2,0.1,0,0.2,-0.3,-0.6,-1.3,-0.5,0.8,1.2,0.9,0.5,0.6,0.9,0.4,-0.3,-0.8,-0.5,0,0.2,0.1,-0.2,-0.4,-0.6,-0.5,-0.8,-0.5,-0.2,0.3,0.2,0.1,0,0.3,0.2,0.2];
var P4_P2_G = [-0.3,0.1,-0.2,0.3,0,0.1,-0.8,-1.9,-0.6,1.0,1.9,1.4,0.3,-0.5,-0.9,-0.6,-0.2,0,-0.2,-0.3,-0.1,0.2,-0.3,-0.2,-0.1,-0.3,-0.5,-0.2,0.3,0,-0.3,0.2,0.1,-0.1,0,0.1];

// ---------- layout (positions / styles only) ----------
var SANS = "'Liberation Sans', Arial, sans-serif";
var LAYOUT = {
  P1:{title:0, tx:390, ty:20, cols:[27,255,483], w:213, rows:[[44,177],[206,337],[369,501]],
      yMin:-6, yMax:6, yTicks:Y_TICKS_SEMANTIC, xMargin:8, base:BASE_P1,
      baseStyle:[['#000',1],['#000',1],['#000',1]],
      names:[[[225,66],[455,66],[661,60]],[[223,231],[453,226],[665,226]],[[223,396],[454,391],[666,391]]],
      uv:[[45,53],[45,220],[45,380]], msec:[[108,492],[339,492],[566,492]],
      peaks:[[338,225],[314,308],[363,318]]},
  P2:{title:1, tx:1078, ty:20, cols:[754,984,1209], w:213, rows:[[37,170],[198,331],[367,500]],
      yMin:-6, yMax:6, yTicks:Y_TICKS_SEMANTIC, xMargin:9, base:BASE_P2,
      baseStyle:[['#8c8c8c',2],['#8c8c8c',2],['#555',1]],
      names:[[[949,66],[1179,66],[1391,60]],[[948,226],[1171,226],[1390,226]],[[948,391],[1172,391],[1390,391]]],
      uv:[[770,48],[770,213],[770,385]], msec:[[832,493],[1064,493],[1290,493]],
      peaks:[[1065,203],[1040,297],[1082,341]]},
  P3:{title:2, tx:342, ty:621, cols:[36,260,486], w:211, rows:[[631,783],[795,945],[958,1110]],
      yMin:-6, yMax:8, yTicks:Y_TICKS_PROSODY, xMargin:-8, base:BASE_P3,
      baseStyle:[['#8c8c8c',2],['#000',1],['#000',1]],
      names:[[[225,665],[450,671],[666,665]],[[229,829],[449,829],[660,829]],[[230,987],[450,987],[666,987]]],
      uv:[[57,638],[59,802],[59,964]], msec:[[110,1092],[341,1092],[573,1092]],
      peaks:[[344,822],[308,908],[364,932]]},
  P4:{title:3, tx:1076, ty:616, cols:[754,982,1208], w:213, rows:[[622,778],[782,933],[941,1093]],
      yMin:-6, yMax:8, yTicks:Y_TICKS_PROSODY, xMargin:11, base:BASE_P4,
      baseStyle:[['#8c8c8c',2],['#000',1],['#000',1]],
      names:[[[943,662],[1172,656],[1391,656]],[[948,822],[1171,822],[1390,822]],[[948,988],[1172,988],[1390,988]]],
      uv:[[770,628],[770,793],[770,954]], msec:[[832,1092],[1059,1092],[1296,1092]],
      peaks:[[1050,794],[1037,915],[1081,932]]}
};
var LINE_STYLES = [['B','#0b0b86',2.2,3],['R','#ff1a1a',2.2,4],['G','#1ee81e',3,5]];

function txt(s, x, y, font, fill, sx, strokeW){
  var st = {text:s, x:0, y:0, textAlign:'center', textVerticalAlign:'middle', font:font, fill:fill||'#000'};
  if (strokeW) { st.stroke = fill||'#000'; st.lineWidth = strokeW; }
  return {type:'text', z:10, x:x, y:y, scaleX:sx||1, silent:true, style:st};
}

// ---------- build option ----------
var grids=[], xAxes=[], yAxes=[], series=[], graphics=[];
var bad=[];
Object.keys(LAYOUT).forEach(function(pk){
  var L = LAYOUT[pk];
  graphics.push(txt(PANEL_TITLES[L.title], L.tx, L.ty, '24px '+SANS, '#000', 0.84, 0.6));
  for (var r=0;r<3;r++){
    for (var c=0;c<3;c++){
      var gi = grids.length;
      var top = L.rows[r][0], h = L.rows[r][1]-L.rows[r][0];
      grids.push({left:L.cols[c], top:top, width:L.w, height:h, containLabel:false, show:false});
      var firstCol = (c===0);
      xAxes.push({gridIndex:gi, type:'value', min:-300, max:1450,
        axisLine:{show:false}, axisTick:{show:false}, splitLine:{show:false},
        axisLabel: r===2 ? {show:true, customValues:X_TICKS, margin:L.xMargin, fontSize:11, fontWeight:'bold', color:'#000', fontFamily:SANS,
          formatter:(function(fc){return function(v){ return (fc && v===-200) ? '{s|'+v+'}' : String(v); };})(firstCol),
          rich:{s:{padding:[0,0,0,24], fontSize:11, fontWeight:'bold', color:'#000', fontFamily:SANS}}} : {show:false}});
      yAxes.push({gridIndex:gi, type:'value', min:L.yMin, max:L.yMax, show:firstCol,
        axisLine:{show:true, onZero:false, lineStyle:{color:'#000', width:2.5}},
        axisTick:{show:true, customValues:[L.yMin, L.yMax], length:6, lineStyle:{color:'#000', width:2}},
        axisLabel:{show:true, customValues:L.yTicks, margin:10, fontSize:10, fontWeight:'bold', color:'#000', fontFamily:SANS},
        splitLine:{show:false}});
      var bs = L.baseStyle[r];
      series.push({type:'line', xAxisIndex:gi, yAxisIndex:gi, z:1, silent:true, showSymbol:false, animation:false,
        data:[[-300, L.base[r]],[1450, L.base[r]]], lineStyle:{color:bs[0], width:bs[1]}});
      var el = ELECTRODES[r][c];
      LINE_STYLES.forEach(function(ls){
        var name = pk+'_'+el+'_'+ls[0];
        var arr = window[name];
        if (!arr || arr.length!==TIME_MS.length) bad.push(name+':'+(arr?arr.length:'missing'));
        series.push({type:'line', name:name, xAxisIndex:gi, yAxisIndex:gi, z:ls[3], silent:true, showSymbol:false, animation:false,
          smooth:0.35, data:TIME_MS.map(function(t,k){return [t, arr[k]];}),
          lineStyle:{color:ls[1], width:ls[2]}});
      });
      var np = L.names[r][c];
      graphics.push(txt(el, np[0], np[1], 'bold 22px '+SANS, '#000', 0.85));
    }
    var up = L.uv[r];
    graphics.push(txt('\u03bcV', up[0], up[1], 'bold 16px '+SANS, '#000', 1));
  }
  L.msec.forEach(function(m){ graphics.push(txt('msec', m[0], m[1], '13px '+SANS, '#333', 1)); });
  L.peaks.forEach(function(p,k){ graphics.push(txt(PEAK_NAMES[k], p[0], p[1], 'italic bold 16px '+SANS, '#000', 1)); });
});
if (bad.length) throw new Error('Bad arrays: '+bad.join(', '));

var chart = echarts.init(document.getElementById('c'), null, {renderer:'canvas'});
chart.setOption({
  backgroundColor:'#fff', animation:false,
  grid:grids, xAxis:xAxes, yAxis:yAxes, series:series, graphic:graphics
});
</script></body></html>
